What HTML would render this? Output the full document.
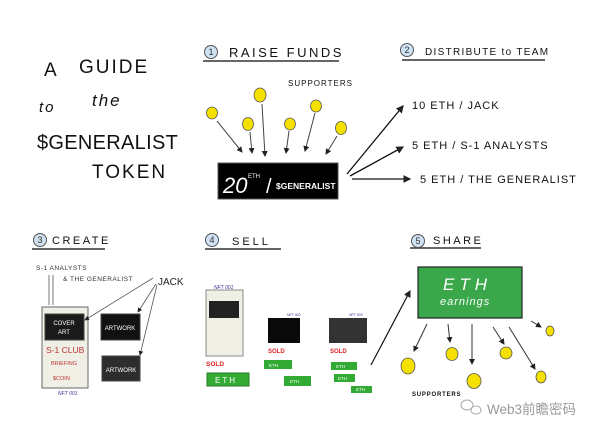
<!DOCTYPE html>
<html><head><meta charset="utf-8"><style>
html,body{margin:0;padding:0;background:#fff;}
svg{display:block;font-family:"Liberation Sans","Noto Sans CJK SC",sans-serif;}
</style></head><body>
<svg width="600" height="433" viewBox="0 0 600 433" xmlns="http://www.w3.org/2000/svg">
<defs>
<marker id="a" markerWidth="6" markerHeight="6" refX="5" refY="3" orient="auto"><path d="M0,0 L6,3 L0,6 z" fill="#222"/></marker>
</defs>
<rect width="600" height="433" fill="#fff"/>
<g fill="#111" font-size="19" letter-spacing="2">
<text x="44" y="76">A</text><text x="79" y="73">GUIDE</text>
<text x="39" y="112" font-size="15" font-style="italic">to</text><text x="92" y="106" font-size="17" font-style="italic">the</text>
<text x="37" y="149" font-size="20" letter-spacing="0.3">$GENERALIST</text>
<text x="92" y="178" font-size="19" letter-spacing="2">TOKEN</text>
</g>
<g stroke="#333" stroke-width="1.5">
<line x1="203" y1="61" x2="339" y2="61"/><line x1="402" y1="60" x2="545" y2="60"/>
<line x1="32" y1="249" x2="105" y2="249"/><line x1="205" y1="249" x2="281" y2="249"/><line x1="410" y1="248" x2="481" y2="248"/>
</g>
<g fill="#cfe2f3" stroke="#555">
<circle cx="211" cy="52" r="6.5"/><circle cx="407" cy="50" r="6.5"/>
<circle cx="40" cy="240" r="6.5"/><circle cx="212" cy="240" r="6.5"/><circle cx="418" cy="241" r="6.5"/>
</g>
<g font-size="9" fill="#333" text-anchor="middle"><text x="211" y="55">1</text><text x="407" y="53">2</text><text x="40" y="243">3</text><text x="212" y="243">4</text><text x="418" y="244">5</text></g>
<g fill="#111" font-size="13" letter-spacing="2.5">
<text x="229" y="57">RAISE FUNDS</text>
<text x="425" y="55" font-size="10" letter-spacing="1.3">DISTRIBUTE to TEAM</text>
<text x="52" y="244" font-size="11">CREATE</text>
<text x="232" y="245" font-size="11" letter-spacing="3">SELL</text>
<text x="433" y="244" font-size="11">SHARE</text>
</g>
<text x="288" y="86" font-size="8" fill="#111" letter-spacing="1">SUPPORTERS</text>
<g fill="#f5e000" stroke="#555" stroke-width="0.8">
<ellipse cx="212" cy="113" rx="5.5" ry="6"/><ellipse cx="260" cy="95" rx="6" ry="7"/><ellipse cx="248" cy="124" rx="5.5" ry="6.5"/>
<ellipse cx="290" cy="124" rx="5.5" ry="6"/><ellipse cx="316" cy="106" rx="5.5" ry="6"/><ellipse cx="341" cy="128" rx="5.5" ry="6.5"/>
</g>
<g stroke="#444" stroke-width="1" marker-end="url(#a)">
<line x1="217" y1="121" x2="242" y2="152"/><line x1="250" y1="132" x2="252" y2="153"/><line x1="262" y1="104" x2="265" y2="156"/>
<line x1="289" y1="131" x2="286" y2="153"/><line x1="315" y1="113" x2="305" y2="151"/><line x1="337" y1="136" x2="326" y2="154"/>
</g>
<rect x="218" y="163" width="120" height="36" fill="#000" stroke="#555"/>
<text x="223" y="193" fill="#fff" font-size="22" font-style="italic">20</text>
<text x="248" y="178" fill="#fff" font-size="6">ETH</text>
<text x="266" y="193" fill="#fff" font-size="20">/</text>
<text x="276" y="189" fill="#fff" font-size="8.5" font-weight="bold">$GENERALIST</text>
<g stroke="#111" stroke-width="1.3" marker-end="url(#a)">
<line x1="347" y1="174" x2="403" y2="106"/><line x1="350" y1="176" x2="403" y2="147"/><line x1="352" y1="179" x2="410" y2="179"/>
</g>
<g fill="#111" font-size="11" letter-spacing="1">
<text x="412" y="109">10 ETH / JACK</text>
<text x="412" y="149">5 ETH / S-1 ANALYSTS</text>
<text x="420" y="183">5 ETH / THE GENERALIST</text>
</g>
<g fill="#333" font-size="6.5" letter-spacing="0.5"><text x="36" y="270">S-1 ANALYSTS</text><text x="63" y="281">&amp; THE GENERALIST</text></g>
<text x="158" y="285" font-size="10" fill="#222">JACK</text>
<g stroke="#555" stroke-width="0.8"><line x1="49" y1="275" x2="49" y2="305"/><line x1="53" y1="275" x2="53" y2="305"/></g>
<rect x="42" y="307" width="46" height="81" fill="#f0efe6" stroke="#666"/>
<rect x="45" y="314" width="39" height="26" fill="#1a1a1a" stroke="#444"/>
<g fill="#fff" font-size="6" text-anchor="middle"><text x="64" y="325">COVER</text><text x="64" y="334">ART</text></g>
<text x="46" y="353" fill="#b33" font-size="8.5">S-1 CLUB</text>
<text x="51" y="365" fill="#b33" font-size="5.5">BRIEFING</text>
<text x="53" y="380" fill="#b33" font-size="5.5">$COIN</text>
<text x="58" y="395" fill="#339" font-size="5" font-style="italic">NFT 001</text>
<rect x="101" y="314" width="39" height="26" fill="#111" stroke="#444"/>
<text x="120" y="330" fill="#fff" font-size="6" text-anchor="middle">ARTWORK</text>
<rect x="102" y="356" width="38" height="25" fill="#2d2d2d" stroke="#444"/>
<text x="121" y="372" fill="#fff" font-size="6" text-anchor="middle">ARTWORK</text>
<g stroke="#555" stroke-width="0.8" marker-end="url(#a)">
<line x1="153" y1="278" x2="85" y2="320"/><line x1="156" y1="284" x2="138" y2="312"/><line x1="157" y1="285" x2="140" y2="355"/>
</g>
<text x="214" y="289" fill="#339" font-size="5" font-style="italic">NFT 001</text>
<rect x="206" y="290" width="37" height="66" fill="#f0efe6" stroke="#888"/>
<rect x="209" y="301" width="30" height="17" fill="#222"/>
<text x="206" y="366" fill="#d22" font-size="6.5" font-weight="bold">SOLD</text>
<rect x="207" y="373" width="42" height="13" fill="#3a3" stroke="#2a7a2a"/>
<text x="215" y="383" fill="#fff" font-size="8" letter-spacing="2">ETH</text>
<text x="287" y="316" fill="#339" font-size="3.5">NFT 002</text>
<text x="349" y="316" fill="#339" font-size="3.5">NFT 003</text>
<rect x="268" y="318" width="32" height="25" fill="#0a0a0a"/>
<rect x="329" y="318" width="38" height="25" fill="#333"/>
<text x="268" y="353" fill="#d22" font-size="6" font-weight="bold">SOLD</text>
<text x="330" y="353" fill="#d22" font-size="6" font-weight="bold">SOLD</text>
<g fill="#3a3"><rect x="264" y="360" width="28" height="9"/><rect x="284" y="376" width="27" height="10"/>
<rect x="331" y="362" width="26" height="8"/><rect x="334" y="374" width="21" height="8"/><rect x="351" y="386" width="21" height="7"/></g>
<g fill="#fff" font-size="4.5"><text x="269" y="367">ETH</text><text x="290" y="383">ETH</text><text x="336" y="368">ETH</text><text x="338" y="380">ETH</text><text x="356" y="391">ETH</text></g>
<line x1="371" y1="365" x2="410" y2="291" stroke="#111" stroke-width="1.2" marker-end="url(#a)"/>
<rect x="418" y="267" width="104" height="51" fill="#3aa84a" stroke="#222" stroke-width="1.2"/>
<text x="443" y="290" fill="#fff" font-size="17" font-style="italic" letter-spacing="5">ETH</text>
<text x="440" y="305" fill="#fff" font-size="11" font-style="italic" letter-spacing="1">earnings</text>
<g stroke="#333" stroke-width="1" marker-end="url(#a)">
<line x1="427" y1="324" x2="414" y2="351"/><line x1="448" y1="324" x2="450" y2="342"/><line x1="472" y1="324" x2="472" y2="364"/>
<line x1="493" y1="327" x2="504" y2="344"/><line x1="509" y1="327" x2="535" y2="369"/><line x1="531" y1="321" x2="541" y2="327"/>
</g>
<g fill="#f5e000" stroke="#555" stroke-width="0.8">
<ellipse cx="408" cy="366" rx="7" ry="8"/><ellipse cx="452" cy="354" rx="6" ry="6.5"/><ellipse cx="474" cy="381" rx="7" ry="7.5"/>
<ellipse cx="506" cy="353" rx="6" ry="6"/><ellipse cx="541" cy="377" rx="5" ry="6"/><ellipse cx="550" cy="331" rx="4" ry="5"/>
</g>
<text x="412" y="396" font-size="6" fill="#111" font-weight="bold" letter-spacing="0.8">SUPPORTERS</text>
<g fill="none" stroke="#aaa" stroke-width="1"><ellipse cx="467" cy="405" rx="6" ry="5"/><ellipse cx="476" cy="410" rx="5" ry="4"/></g>
<text x="487" y="414" font-size="13.5" fill="#999">Web3前瞻密码</text>
</svg>
</body></html>
